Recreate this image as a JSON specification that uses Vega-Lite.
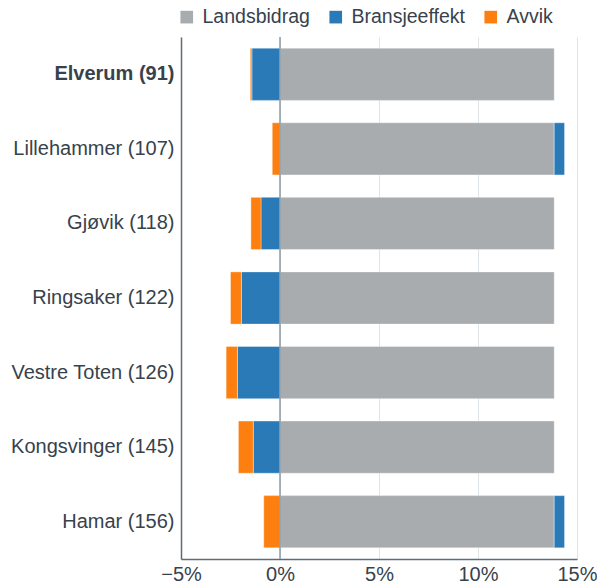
{
  "$schema": "https://vega.github.io/schema/vega-lite/v6.json",
  "autosize": {"type": "none"},
  "padding": {"left": 181, "top": 37, "right": 20, "bottom": 27},
  "width": 396,
  "height": 522,
  "background": "white",
  "config": {
    "font": "Liberation Sans",
    "view": {"stroke": null}
  },
  "layer": [
    {
      "data": {
        "values": [
          {"kommune": "Elverum (91)", "komponent": "Landsbidrag", "verdi": 13.85, "rekke": 0},
          {"kommune": "Elverum (91)", "komponent": "Bransjeeffekt", "verdi": -1.42, "rekke": 1},
          {"kommune": "Elverum (91)", "komponent": "Avvik", "verdi": -0.08, "rekke": 2},
          {"kommune": "Lillehammer (107)", "komponent": "Landsbidrag", "verdi": 13.85, "rekke": 0},
          {"kommune": "Lillehammer (107)", "komponent": "Bransjeeffekt", "verdi": 0.52, "rekke": 1},
          {"kommune": "Lillehammer (107)", "komponent": "Avvik", "verdi": -0.39, "rekke": 2},
          {"kommune": "Gjøvik (118)", "komponent": "Landsbidrag", "verdi": 13.85, "rekke": 0},
          {"kommune": "Gjøvik (118)", "komponent": "Bransjeeffekt", "verdi": -0.96, "rekke": 1},
          {"kommune": "Gjøvik (118)", "komponent": "Avvik", "verdi": -0.51, "rekke": 2},
          {"kommune": "Ringsaker (122)", "komponent": "Landsbidrag", "verdi": 13.85, "rekke": 0},
          {"kommune": "Ringsaker (122)", "komponent": "Bransjeeffekt", "verdi": -1.95, "rekke": 1},
          {"kommune": "Ringsaker (122)", "komponent": "Avvik", "verdi": -0.55, "rekke": 2},
          {"kommune": "Vestre Toten (126)", "komponent": "Landsbidrag", "verdi": 13.85, "rekke": 0},
          {"kommune": "Vestre Toten (126)", "komponent": "Bransjeeffekt", "verdi": -2.15, "rekke": 1},
          {"kommune": "Vestre Toten (126)", "komponent": "Avvik", "verdi": -0.57, "rekke": 2},
          {"kommune": "Kongsvinger (145)", "komponent": "Landsbidrag", "verdi": 13.85, "rekke": 0},
          {"kommune": "Kongsvinger (145)", "komponent": "Bransjeeffekt", "verdi": -1.35, "rekke": 1},
          {"kommune": "Kongsvinger (145)", "komponent": "Avvik", "verdi": -0.75, "rekke": 2},
          {"kommune": "Hamar (156)", "komponent": "Landsbidrag", "verdi": 13.85, "rekke": 0},
          {"kommune": "Hamar (156)", "komponent": "Bransjeeffekt", "verdi": 0.52, "rekke": 1},
          {"kommune": "Hamar (156)", "komponent": "Avvik", "verdi": -0.82, "rekke": 2}
        ]
      },
      "mark": {"type": "bar", "stroke": "white", "strokeWidth": 0.6, "strokeOpacity": 0.6},
      "encoding": {
        "y": {
          "field": "kommune",
          "type": "nominal",
          "sort": ["Elverum (91)", "Lillehammer (107)", "Gjøvik (118)", "Ringsaker (122)", "Vestre Toten (126)", "Kongsvinger (145)", "Hamar (156)"],
          "scale": {"paddingInner": 0.3, "paddingOuter": 0.15},
          "axis": {
            "title": null,
            "ticks": false,
            "domainColor": "#5f6b75",
            "domainWidth": 1.5,
            "labelFontSize": 20,
            "labelColor": "#37424c",
            "labelPadding": 7,
            "labelFontWeight": {"condition": {"test": "datum.value === 'Elverum (91)'", "value": "bold"}, "value": "normal"}
          }
        },
        "x": {
          "field": "verdi",
          "type": "quantitative",
          "stack": "zero",
          "scale": {"domain": [-5, 15], "nice": false},
          "axis": {
            "title": null,
            "values": [-5, 0, 5, 10, 15],
            "labelExpr": "replace(datum.value + '%', '-', '−')",
            "labelFontSize": 20,
            "labelColor": "#37424c",
            "labelPadding": 5,
            "ticks": false,
            "domainColor": "#5f6b75",
            "domainWidth": 1.5,
            "grid": true,
            "gridColor": "#dfe4e8",
            "labelFlush": false
          }
        },
        "color": {
          "field": "komponent",
          "type": "nominal",
          "scale": {"domain": ["Landsbidrag", "Bransjeeffekt", "Avvik"], "range": ["#a8acaf", "#2a7ab8", "#fd7f10"]},
          "legend": {
            "title": null,
            "orient": "none",
            "legendX": -4,
            "legendY": -30,
            "direction": "horizontal",
            "symbolType": "square",
            "symbolSize": 160,
            "symbolStrokeWidth": 0,
            "labelFontSize": 19.5,
            "labelColor": "#37424c",
            "columnPadding": 16,
            "labelOffset": 6
          }
        },
        "order": {"field": "rekke", "type": "quantitative"}
      }
    },
    {
      "data": {"values": [{"null": 0}]},
      "mark": {"type": "rule", "color": "#8d9ba6", "strokeWidth": 1.5},
      "encoding": {"x": {"datum": 0, "type": "quantitative"}}
    }
  ]
}
